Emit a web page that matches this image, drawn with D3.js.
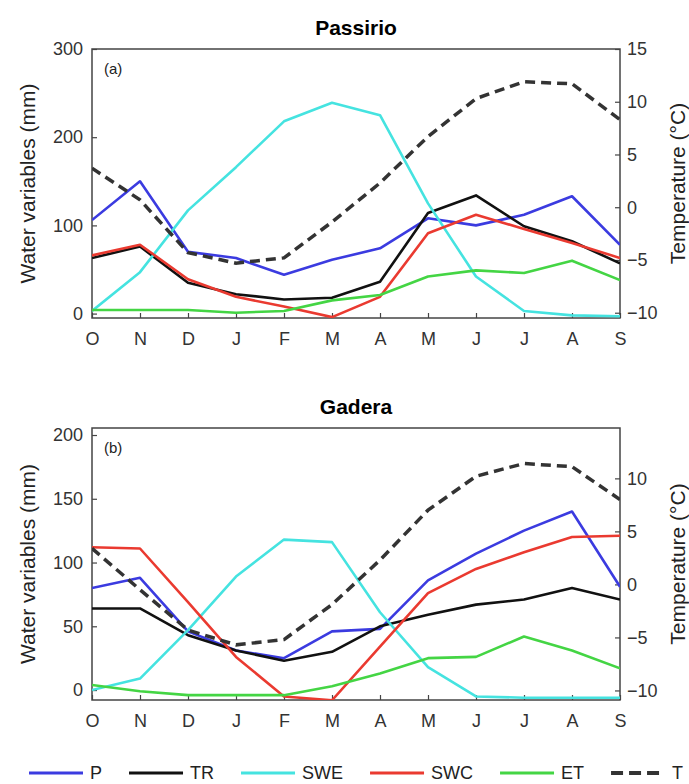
<!DOCTYPE html>
<html>
<head>
<meta charset="utf-8">
<script src="https://cdn.jsdelivr.net/npm/d3@7"></script>
<style>
  body { margin: 0; background: #fff; }
  svg { display: block; font-family: "Liberation Sans", Arial, sans-serif; }
  .tick text { fill: #333; }
</style>
</head>
<body>
<div id="chart"></div>
<script>
// months of the hydrological year
var months = ["O", "N", "D", "J", "F", "M", "A", "M", "J", "J", "A", "S"];

var seriesNames = ["P", "TR", "SWE", "SWC", "ET"];
var tempName = "T";

// Passirio (mm, temperature in degC)
var passirioP   = [106, 150, 70, 63, 44, 61, 74, 108, 100, 112, 133, 78];
var passirioTR  = [63, 76, 35, 22, 16, 18, 36, 114, 134, 99, 82, 57];
var passirioSWE = [3, 47, 117, 166, 218, 239, 225, 125, 42, 3, -2, -3];
var passirioSWC = [66, 78, 39, 19, 8, -4, 19, 91, 112, 96, 80, 63];
var passirioET  = [4, 4, 4, 1, 3, 15, 21, 42, 49, 46, 60, 38];
var passirioT   = [3.7, 0.7, -4.3, -5.3, -4.8, -1.4, 2.3, 6.7, 10.3, 11.9, 11.7, 8.3];

// Gadera
var gaderaP   = [80, 88, 46, 31, 25, 46, 48, 86, 107, 125, 140, 81];
var gaderaTR  = [64, 64, 43, 31, 23, 30, 50, 59, 67, 71, 80, 71];
var gaderaSWE = [0, 9, 47, 89, 118, 116, 61, 18, -5, -6, -6, -6];
var gaderaSWC = [112, 111, 69, 26, -5, -8, 34, 76, 95, 108, 120, 121];
var gaderaET  = [4, -1, -4, -4, -4, 3, 13, 25, 26, 42, 31, 17];
var gaderaT   = [3.4, -0.5, -4.3, -5.7, -5.2, -1.9, 2.3, 7.0, 10.2, 11.4, 11.1, 8.0];

// axis ticks
var passirioLeftTicks = [0, 100, 200, 300];
var passirioRightTicks = [-10, -5, 0, 5, 10, 15];
var gaderaLeftTicks = [0, 50, 100, 150, 200];
var gaderaRightTicks = [-10, -5, 0, 5, 10];

var colors = {P: "#3b3be0", TR: "#111", SWE: "#45e3e0", SWC: "#ea3a30", ET: "#44d544", T: "#333"};

var W = 689, H = 784;
var svg = d3.select("#chart").append("svg")
  .attr("width", W)
  .attr("height", H);

var left = 92, right = 620;

var x = d3.scaleLinear().domain([0, months.length - 1]).range([left, right]);

function drawPanel(p, idx) {
  var yL = d3.scaleLinear().domain(p.leftDomain).range([p.bottom, p.top]);
  var yR = d3.scaleLinear().domain(p.rightDomain).range([p.bottom, p.top]);
  var g = svg.append("g");

  svg.append("clipPath").attr("id", "clip" + idx)
    .append("rect")
      .attr("x", left).attr("y", p.top)
      .attr("width", right - left).attr("height", p.bottom - p.top);

  // title
  g.append("text")
    .attr("x", (left + right) / 2)
    .attr("y", p.top - 14)
    .attr("text-anchor", "middle")
    .style("font-size", "21px")
    .style("font-weight", "bold")
    .text(p.title);

  // axes (ticks pointing inward, matlab style)
  var xAxis = d3.axisBottom(x)
    .tickValues(d3.range(months.length))
    .tickFormat(function(i) { return months[i]; })
    .tickSize(-5).tickPadding(14);
  var ax = g.append("g")
    .attr("transform", "translate(0," + p.bottom + ")")
    .call(xAxis);

  var ly = g.append("g")
    .attr("transform", "translate(" + left + ",0)")
    .call(d3.axisLeft(yL).tickValues(p.leftTicks).tickSize(-5).tickPadding(9));

  var ry = g.append("g")
    .attr("transform", "translate(" + right + ",0)")
    .call(d3.axisRight(yR).tickValues(p.rightTicks).tickSize(-5).tickPadding(7));

  [ax, ly, ry].forEach(function(a) {
    a.select(".domain").remove();
    a.selectAll(".tick line").attr("stroke", "#444").attr("stroke-width", 1.2);
    a.selectAll(".tick text").style("font-size", "18px");
  });

  // frame
  g.append("rect")
    .attr("x", left).attr("y", p.top)
    .attr("width", right - left).attr("height", p.bottom - p.top)
    .attr("fill", "none")
    .attr("stroke", "#444")
    .attr("stroke-width", 1.5);

  // panel tag
  g.append("text")
    .attr("x", left + 12)
    .attr("y", p.top + 25)
    .style("font-size", "15px")
    .attr("fill", "#222")
    .text(p.tag);

  // axis titles
  var mid = (p.top + p.bottom) / 2;
  g.append("text")
    .attr("transform", "translate(35," + mid + ") rotate(-90)")
    .attr("text-anchor", "middle")
    .style("font-size", "21px")
    .attr("fill", "#222")
    .text("Water variables (mm)");
  g.append("text")
    .attr("transform", "translate(685," + mid + ") rotate(-90)")
    .attr("text-anchor", "middle")
    .style("font-size", "21px")
    .attr("fill", "#222")
    .text("Temperature (\u00B0C)");

  var lineL = d3.line()
    .x(function(d, i) { return x(i); })
    .y(function(d) { return yL(d); });
  var lineR = d3.line()
    .x(function(d, i) { return x(i); })
    .y(function(d) { return yR(d); });

  var plot = g.append("g").attr("clip-path", "url(#clip" + idx + ")");

  seriesNames.forEach(function(name) {
    plot.append("path")
      .attr("d", lineL(p.series[name]))
      .attr("fill", "none")
      .attr("stroke", colors[name])
      .attr("stroke-width", 2.6)
      .attr("stroke-linejoin", "round");
  });

  plot.append("path")
    .attr("d", lineR(p.temp))
    .attr("fill", "none")
    .attr("stroke", colors.T)
    .attr("stroke-width", 3.5)
    .attr("stroke-dasharray", "10,6");
}

var panels = [
  {
    title: "Passirio", tag: "(a)", top: 49, bottom: 318,
    leftDomain: [-5, 300], rightDomain: [-10.5, 15],
    leftTicks: passirioLeftTicks, rightTicks: passirioRightTicks,
    series: {P: passirioP, TR: passirioTR, SWE: passirioSWE, SWC: passirioSWC, ET: passirioET},
    temp: passirioT
  },
  {
    title: "Gadera", tag: "(b)", top: 428, bottom: 700,
    leftDomain: [-7.8, 205.5], rightDomain: [-10.9, 14.75],
    leftTicks: gaderaLeftTicks, rightTicks: gaderaRightTicks,
    series: {P: gaderaP, TR: gaderaTR, SWE: gaderaSWE, SWC: gaderaSWC, ET: gaderaET},
    temp: gaderaT
  }
];

panels.forEach(drawPanel);

// Legend
var legend = svg.append("g");
var lx = 29, ly0 = 773;
seriesNames.concat([tempName]).forEach(function(name) {
  legend.append("line")
    .attr("x1", lx).attr("x2", lx + 54)
    .attr("y1", ly0).attr("y2", ly0)
    .attr("stroke", colors[name])
    .attr("stroke-width", name === tempName ? 4 : 3)
    .attr("stroke-dasharray", name === tempName ? "12,6" : null);
  var t = legend.append("text")
    .attr("x", lx + 61)
    .attr("y", ly0 + 6)
    .style("font-size", "18px")
    .attr("fill", "#222")
    .text(name);
  lx = lx + 61 + t.node().getComputedTextLength() + 27;
});
</script>
</body>
</html>
